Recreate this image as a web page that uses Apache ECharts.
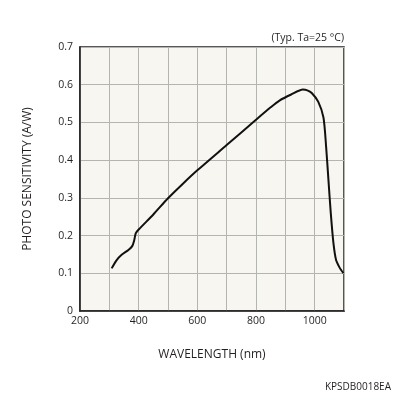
<!DOCTYPE html>
<html>
<head>
<meta charset="utf-8">
<script src="https://cdn.jsdelivr.net/npm/echarts@6/dist/echarts.min.js"></script>
<style>
  html, body { margin: 0; padding: 0; background: #fff; }
  #chart { width: 396px; height: 396px; }
</style>
</head>
<body>
<div id="chart"></div>
<script>
// wavelength (nm) and photo sensitivity (A/W)
var wavelength = [308, 325, 342, 365, 378, 385, 390, 400, 450, 500, 550, 600, 700, 800, 850, 880, 920, 960, 975, 990, 1012, 1030, 1039, 1047, 1055, 1064, 1073, 1085, 1098]
var sensitivity = [0.113, 0.135, 0.149, 0.162, 0.172, 0.188, 0.206, 0.216, 0.256, 0.299, 0.337, 0.373, 0.44, 0.507, 0.54, 0.558, 0.574, 0.587, 0.585, 0.578, 0.555, 0.513, 0.436, 0.347, 0.259, 0.18, 0.135, 0.115, 0.1]
var xLabels = [200, 400, 600, 800, 1000]

var font = 'Open Sans'
var textColor = '#231f20'

var data = wavelength.map(function(w, i) { return [w, sensitivity[i]] })

var chart = echarts.init(document.getElementById('chart'))
chart.setOption({
  animation: false,
  grid: {
    left: 80,
    right: 52,
    top: 47,
    bottom: 85,
    show: true,
    backgroundColor: '#f7f6f0',
    borderColor: '#231f20',
    borderWidth: 1.5
  },
  xAxis: {
    type: 'value',
    min: 200,
    max: 1100,
    interval: 100,
    name: 'WAVELENGTH (nm)',
    nameLocation: 'middle',
    nameGap: 38,
    nameTextStyle: { fontFamily: font, fontSize: 12, color: textColor },
    axisLine: { show: true, lineStyle: { color: '#231f20', width: 1.5 } },
    axisTick: { show: false },
    axisLabel: {
      fontFamily: font,
      fontSize: 10.5,
      color: textColor,
      margin: 5,
      formatter: function(v) { return xLabels.indexOf(v) >= 0 ? String(v) : '' }
    },
    splitLine: { show: true, lineStyle: { color: '#b4b4b0', width: 1 } }
  },
  yAxis: {
    type: 'value',
    min: 0,
    max: 0.7,
    interval: 0.1,
    name: 'PHOTO SENSITIVITY (A/W)',
    nameLocation: 'middle',
    nameRotate: 90,
    nameGap: 46,
    nameTextStyle: { fontFamily: font, fontSize: 12, color: textColor },
    axisLine: { show: true, lineStyle: { color: '#231f20', width: 1.5 } },
    axisTick: { show: false },
    axisLabel: {
      fontFamily: font,
      fontSize: 10.5,
      color: textColor,
      margin: 7,
      formatter: function(v) { return v === 0 ? '0' : v.toFixed(1) }
    },
    splitLine: { show: true, lineStyle: { color: '#b4b4b0', width: 1 } }
  },
  graphic: [
    {
      type: 'text',
      right: 52,
      top: 33,
      style: { text: '(Typ. Ta=25 °C)', font: '10.5px "Open Sans"', fill: textColor }
    },
    {
      type: 'text',
      right: 5,
      top: 382,
      style: { text: 'KPSDB0018EA', font: '10px "Open Sans"', fill: textColor }
    }
  ],
  series: [{
    type: 'line',
    data: data,
    smooth: 0.25,
    symbol: 'none',
    lineStyle: { color: '#111', width: 2 }
  }]
})
</script>
</body>
</html>
